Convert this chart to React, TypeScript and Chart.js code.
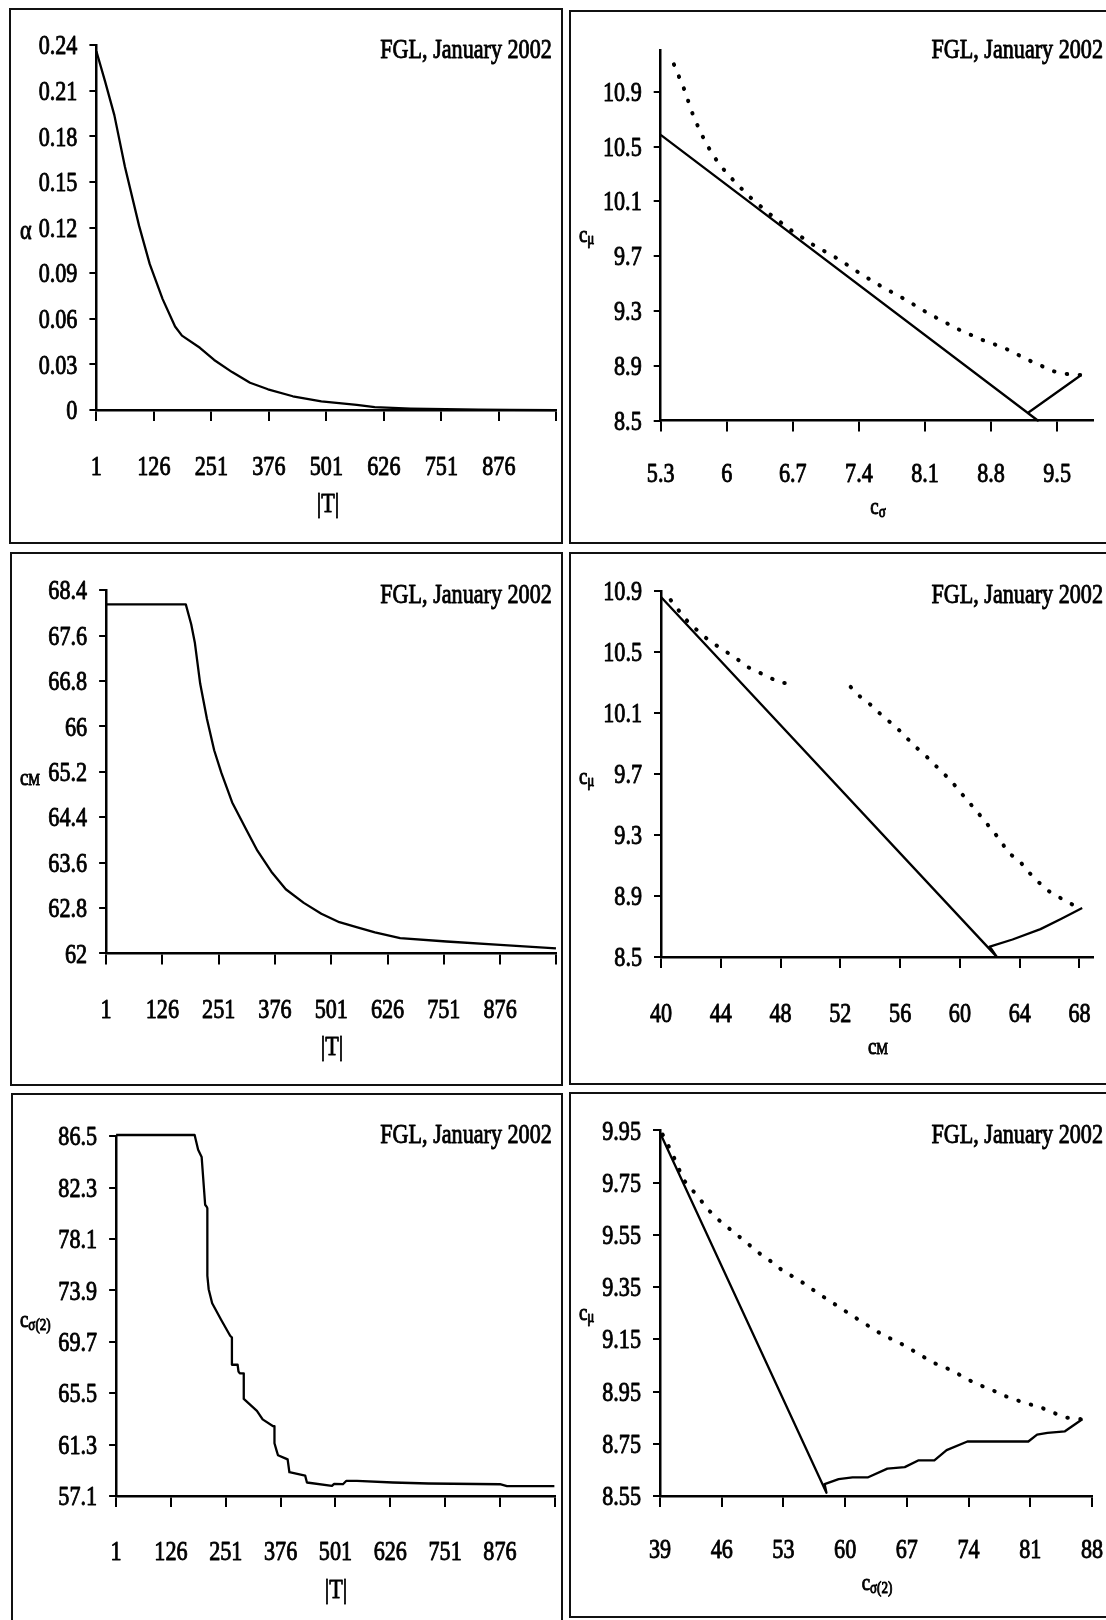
import React, { useEffect, useRef } from 'react';
import { Chart, registerables } from 'chart.js';

Chart.register(...registerables);

// ======================= DATA =======================
const ANNOTATION = 'FGL, January 2002';

const T_TICKS = [1, 126, 251, 376, 501, 626, 751, 876, 1001];
const T_TICK_LABELS = ['1', '126', '251', '376', '501', '626', '751', '876', ''];

// Panel 1: alpha vs |T|
const P1_Y_TICKS = [0, 0.03, 0.06, 0.09, 0.12, 0.15, 0.18, 0.21, 0.24];
const P1_Y_LABELS = ['0', '0.03', '0.06', '0.09', '0.12', '0.15', '0.18', '0.21', '0.24'];
const P1_T = [1, 20, 40, 63, 94, 117, 145, 172, 187, 226, 257, 296, 335, 374, 428, 490, 567, 606, 684, 760, 832, 900, 1000];
const P1_ALPHA = [0.236, 0.216, 0.194, 0.16, 0.121, 0.096, 0.073, 0.055, 0.049, 0.041, 0.033, 0.025, 0.018, 0.0137, 0.0091, 0.0057, 0.0034, 0.0019, 0.001, 0.0006, 0.0003, 0.0002, 0.0];

// c_mu ticks shared by panels 2 and 4
const CMU_TICKS = [8.5, 8.9, 9.3, 9.7, 10.1, 10.5, 10.9];
const CMU_LABELS = ['8.5', '8.9', '9.3', '9.7', '10.1', '10.5', '10.9'];

// Panel 2: c_mu vs c_sigma
const P2_X_TICKS = [5.3, 6, 6.7, 7.4, 8.1, 8.8, 9.5];
const P2_X_LABELS = ['5.3', '6', '6.7', '7.4', '8.1', '8.8', '9.5'];
const P2_SOLID_X = [5.3, 9.295, 9.189, 9.755];
const P2_SOLID_Y = [10.586, 8.5, 8.555, 8.832];
const P2_DOT_X = [5.44, 5.5, 5.56, 5.62, 5.68, 5.74, 5.8, 5.91, 6.02, 6.23, 6.45, 6.68, 6.92, 7.18, 7.42, 7.66, 7.9, 8.14, 8.44, 8.7, 8.94, 9.2, 9.46, 9.59, 9.755];
const P2_DOT_Y = [11.1, 11.0, 10.9, 10.77, 10.67, 10.58, 10.5, 10.38, 10.29, 10.14, 10.01, 9.89, 9.78, 9.68, 9.57, 9.47, 9.38, 9.28, 9.17, 9.09, 9.03, 8.94, 8.86, 8.84, 8.832];

// Panel 3: c_M vs |T|
const P3_Y_TICKS = [62, 62.8, 63.6, 64.4, 65.2, 66, 66.8, 67.6, 68.4];
const P3_Y_LABELS = ['62', '62.8', '63.6', '64.4', '65.2', '66', '66.8', '67.6', '68.4'];
const P3_T = [1, 178, 190, 198, 210, 225, 241, 257, 281, 313, 337, 368, 400, 440, 479, 519, 559, 598, 654, 757, 876, 1000];
const P3_CM = [68.15, 68.15, 67.8, 67.48, 66.75, 66.13, 65.58, 65.18, 64.66, 64.17, 63.81, 63.44, 63.13, 62.89, 62.7, 62.55, 62.46, 62.37, 62.27, 62.21, 62.15, 62.09];

// Panel 4: c_mu vs c_M
const P4_X_TICKS = [40, 44, 48, 52, 56, 60, 64, 68];
const P4_X_LABELS = ['40', '44', '48', '52', '56', '60', '64', '68'];
const P4_SOLID_X = [40, 62.47, 62.0, 63.52, 65.39, 66.79, 68.18];
const P4_SOLID_Y = [10.86, 8.5, 8.568, 8.614, 8.682, 8.75, 8.82];
const P4_DOT1_X = [40.65, 41.28, 41.86, 42.56, 43.26, 44.07, 45.0, 45.82, 47.1, 47.92, 48.85];
const P4_DOT1_Y = [10.84, 10.76, 10.69, 10.63, 10.57, 10.52, 10.46, 10.4, 10.34, 10.3, 10.29];
const P4_DOT2_X = [52.69, 53.39, 54.21, 54.9, 55.6, 56.3, 57.0, 57.7, 58.52, 59.45, 60.03, 60.73, 61.42, 62.0, 62.58, 63.28, 63.98, 64.56, 65.26, 65.96, 66.66, 67.36, 68.18];
const P4_DOT2_Y = [10.27, 10.2, 10.14, 10.07, 10.02, 9.95, 9.88, 9.82, 9.74, 9.65, 9.58, 9.5, 9.42, 9.35, 9.28, 9.18, 9.13, 9.06, 8.99, 8.93, 8.89, 8.85, 8.82];

// Panel 5: c_sigma(2) vs |T|
const P5_Y_TICKS = [57.1, 61.3, 65.5, 69.7, 73.9, 78.1, 82.3, 86.5];
const P5_Y_LABELS = ['57.1', '61.3', '65.5', '69.7', '73.9', '78.1', '82.3', '86.5'];
const P5_T = [1, 180, 188, 196, 204, 208, 209, 209, 212, 220, 241, 261, 265, 265, 278, 280, 283, 292, 292, 322, 335, 359, 362, 362, 367, 370, 388, 392, 396, 432, 436, 493, 498, 518, 526, 550, 632, 713, 876, 892, 1000];
const P5_CS2 = [86.6, 86.6, 85.4, 84.8, 80.9, 80.7, 80.6, 75.1, 74.0, 72.85, 71.46, 70.2, 70.06, 67.83, 67.83, 67.27, 67.13, 67.13, 65.04, 64.07, 63.37, 62.81, 62.81, 61.42, 60.8, 60.44, 60.16, 60.1, 59.05, 58.77, 58.21, 57.93, 58.1, 58.07, 58.35, 58.35, 58.21, 58.13, 58.07, 57.91, 57.91];

// Panel 6: c_mu vs c_sigma(2)
const P6_X_TICKS = [39, 46, 53, 60, 67, 74, 81, 88];
const P6_X_LABELS = ['39', '46', '53', '60', '67', '74', '81', '88'];
const P6_Y_TICKS = [8.55, 8.75, 8.95, 9.15, 9.35, 9.55, 9.75, 9.95];
const P6_Y_LABELS = ['8.55', '8.75', '8.95', '9.15', '9.35', '9.55', '9.75', '9.95'];
const P6_SOLID_X = [39, 57.88, 57.67, 59.26, 60.84, 62.61, 64.79, 66.76, 68.34, 70.12, 71.51, 73.87, 76.64, 80.78, 81.77, 82.95, 84.93, 86.9];
const P6_SOLID_Y = [9.941, 8.563, 8.596, 8.615, 8.622, 8.622, 8.655, 8.661, 8.687, 8.687, 8.726, 8.759, 8.759, 8.759, 8.785, 8.792, 8.798, 8.844];
const P6_DOT_X = [39.3, 40.29, 41.68, 43.25, 44.45, 45.63, 46.82, 48.0, 49.19, 50.37, 51.75, 52.94, 54.32, 55.51, 56.89, 58.07, 59.26, 60.44, 61.61, 63.2, 64.39, 65.77, 67.15, 68.73, 70.12, 71.51, 72.69, 74.06, 75.25, 76.63, 78.0, 79.2, 80.78, 82.16, 83.55, 85.12, 86.9];
const P6_DOT_Y = [9.934, 9.869, 9.76, 9.699, 9.647, 9.608, 9.575, 9.543, 9.51, 9.477, 9.445, 9.412, 9.386, 9.36, 9.327, 9.301, 9.275, 9.249, 9.223, 9.19, 9.164, 9.144, 9.118, 9.086, 9.059, 9.04, 9.02, 8.994, 8.975, 8.957, 8.935, 8.92, 8.903, 8.89, 8.87, 8.85, 8.844];

// ======================= STYLE / LAYOUT =======================
const FONT_FAMILY = '"Liberation Serif", "Times New Roman", Times, serif';
const SCALE_X = 0.82;
const LABEL_SIZE = 27;
const TITLE_C = 23;
const TITLE_SUB = 16;

type Part = { t: string; size: number; dy?: number };
type Series = { x: number[]; y: number[]; dotted: boolean };
type Rect = { left: number; top: number; w: number; h: number };
type PanelSpec = {
  id: string;
  border: { x0: number; y0: number; x1: number; y1: number };
  canvas: Rect;
  area: { left: number; right: number; top: number; bottom: number };
  xMin: number; xMax: number; yMin: number; yMax: number;
  xTicks: number[]; xLabels: string[]; yTicks: number[]; yLabels: string[];
  xLabelCY: number;
  xTitle: Part[]; xTitlePos: { x: number; y: number };
  yTitle: Part[]; yTitlePos: { x: number; y: number };
  annot: { x: number; y: number };
  series: Series[];
};

const T_TITLE: Part[] = [{ t: '|T|', size: LABEL_SIZE }];
const sub = (main: string, s: string, dy = 3): Part[] => [
  { t: main, size: TITLE_C },
  { t: s, size: TITLE_SUB, dy },
];

const PANELS: PanelSpec[] = [
  {
    id: 'p1',
    border: { x0: 10.5, y0: 9.5, x1: 561.5, y1: 542.5 },
    canvas: { left: 12, top: 11, w: 548, h: 530 },
    area: { left: 96.4, right: 556.4, top: 45.2, bottom: 410.1 },
    xMin: 1, xMax: 1001, yMin: 0, yMax: 0.24,
    xTicks: T_TICKS, xLabels: T_TICK_LABELS, yTicks: P1_Y_TICKS, yLabels: P1_Y_LABELS,
    xLabelCY: 465.8,
    xTitle: T_TITLE, xTitlePos: { x: 328, y: 512 },
    yTitle: [{ t: 'α', size: LABEL_SIZE }], yTitlePos: { x: 20, y: 238.5 },
    annot: { x: 551.8, y: 58 },
    series: [{ x: P1_T, y: P1_ALPHA, dotted: false }],
  },
  {
    id: 'p2',
    border: { x0: 570.5, y0: 11, x1: 1120, y1: 543 },
    canvas: { left: 572, top: 13, w: 534, h: 529 },
    area: { left: 660.7, right: 1093, top: 50.7, bottom: 420.5 },
    xMin: 5.3, xMax: 9.88, yMin: 8.5, yMax: 11.2,
    xTicks: P2_X_TICKS, xLabels: P2_X_LABELS, yTicks: CMU_TICKS, yLabels: CMU_LABELS,
    xLabelCY: 472.7,
    xTitle: sub('c', 'σ'), xTitlePos: { x: 878, y: 514 },
    yTitle: sub('c', 'μ', 2), yTitlePos: { x: 579, y: 242 },
    annot: { x: 1103, y: 58 },
    series: [
      { x: P2_SOLID_X, y: P2_SOLID_Y, dotted: false },
      { x: P2_DOT_X, y: P2_DOT_Y, dotted: true },
    ],
  },
  {
    id: 'p3',
    border: { x0: 11.5, y0: 553.5, x1: 561.5, y1: 1084.5 },
    canvas: { left: 13, top: 555, w: 547, h: 528 },
    area: { left: 106.1, right: 556.4, top: 590.2, bottom: 953.4 },
    xMin: 1, xMax: 1001, yMin: 62, yMax: 68.4,
    xTicks: T_TICKS, xLabels: T_TICK_LABELS, yTicks: P3_Y_TICKS, yLabels: P3_Y_LABELS,
    xLabelCY: 1009,
    xTitle: T_TITLE, xTitlePos: { x: 332, y: 1055 },
    yTitle: sub('c', 'M', 0), yTitlePos: { x: 20, y: 785 },
    annot: { x: 551.8, y: 603 },
    series: [{ x: P3_T, y: P3_CM, dotted: false }],
  },
  {
    id: 'p4',
    border: { x0: 570.5, y0: 553.5, x1: 1120, y1: 1084 },
    canvas: { left: 572, top: 555, w: 534, h: 528 },
    area: { left: 661, right: 1093.4, top: 590.9, bottom: 956.9 },
    xMin: 40, xMax: 68.93, yMin: 8.5, yMax: 10.9,
    xTicks: P4_X_TICKS, xLabels: P4_X_LABELS, yTicks: CMU_TICKS, yLabels: CMU_LABELS,
    xLabelCY: 1012.5,
    xTitle: sub('c', 'M', 0), xTitlePos: { x: 878, y: 1054 },
    yTitle: sub('c', 'μ', 2), yTitlePos: { x: 579, y: 784 },
    annot: { x: 1103, y: 603 },
    series: [
      { x: P4_SOLID_X, y: P4_SOLID_Y, dotted: false },
      { x: P4_DOT1_X, y: P4_DOT1_Y, dotted: true },
      { x: P4_DOT2_X, y: P4_DOT2_Y, dotted: true },
    ],
  },
  {
    id: 'p5',
    border: { x0: 12.5, y0: 1094.5, x1: 561.5, y1: 1640 },
    canvas: { left: 14, top: 1096, w: 546, h: 524 },
    area: { left: 116.1, right: 554.8, top: 1136.2, bottom: 1496.1 },
    xMin: 1, xMax: 1001, yMin: 57.1, yMax: 86.5,
    xTicks: T_TICKS, xLabels: T_TICK_LABELS, yTicks: P5_Y_TICKS, yLabels: P5_Y_LABELS,
    xLabelCY: 1550.7,
    xTitle: T_TITLE, xTitlePos: { x: 336, y: 1598 },
    yTitle: sub('c', 'σ(2)'), yTitlePos: { x: 20, y: 1327 },
    annot: { x: 551.8, y: 1143 },
    series: [{ x: P5_T, y: P5_CS2, dotted: false }],
  },
  {
    id: 'p6',
    border: { x0: 570.5, y0: 1093.5, x1: 1120, y1: 1617 },
    canvas: { left: 572, top: 1095, w: 534, h: 521 },
    area: { left: 660, right: 1092, top: 1130.4, bottom: 1496.1 },
    xMin: 39, xMax: 88, yMin: 8.55, yMax: 9.95,
    xTicks: P6_X_TICKS, xLabels: P6_X_LABELS, yTicks: P6_Y_TICKS, yLabels: P6_Y_LABELS,
    xLabelCY: 1549,
    xTitle: sub('c', 'σ(2)'), xTitlePos: { x: 877, y: 1590 },
    yTitle: sub('c', 'μ', 2), yTitlePos: { x: 579, y: 1320 },
    annot: { x: 1103, y: 1143 },
    series: [
      { x: P6_SOLID_X, y: P6_SOLID_Y, dotted: false },
      { x: P6_DOT_X, y: P6_DOT_Y, dotted: true },
    ],
  },
];

// ======================= RENDERING =======================
function drawParts(ctx: CanvasRenderingContext2D, parts: Part[], x: number, y: number, align: 'left' | 'center' | 'right') {
  ctx.save();
  ctx.fillStyle = '#000';
  ctx.strokeStyle = '#000';
  ctx.lineWidth = 0.9;
  ctx.lineJoin = 'round';
  ctx.textBaseline = 'alphabetic';
  ctx.textAlign = 'left';
  let total = 0;
  const widths = parts.map((p) => {
    ctx.font = `${p.size}px ${FONT_FAMILY}`;
    const w = ctx.measureText(p.t).width * SCALE_X;
    total += w;
    return w;
  });
  let cx = align === 'right' ? x - total : align === 'center' ? x - total / 2 : x;
  parts.forEach((p, i) => {
    ctx.font = `${p.size}px ${FONT_FAMILY}`;
    ctx.save();
    ctx.translate(cx, y + (p.dy || 0));
    ctx.scale(SCALE_X, 1);
    ctx.fillText(p.t, 0, 0);
    ctx.strokeText(p.t, 0, 0);
    ctx.restore();
    cx += widths[i];
  });
  ctx.restore();
}

function textPlugin(spec: PanelSpec) {
  return {
    id: 'texts_' + spec.id,
    afterDraw(chart: any) {
      const ctx: CanvasRenderingContext2D = chart.ctx;
      const ox = spec.canvas.left;
      const oy = spec.canvas.top;
      const xs = chart.scales.x;
      const ys = chart.scales.y;
      const ca = chart.chartArea;
      const digitMid = 0.338 * LABEL_SIZE;
      spec.xTicks.forEach((v, i) => {
        const lab = spec.xLabels[i];
        if (!lab) return;
        drawParts(ctx, [{ t: lab, size: LABEL_SIZE }], xs.getPixelForValue(v), spec.xLabelCY - oy + digitMid, 'center');
      });
      spec.yTicks.forEach((v, i) => {
        const lab = spec.yLabels[i];
        if (!lab) return;
        drawParts(ctx, [{ t: lab, size: LABEL_SIZE }], ca.left - 19, ys.getPixelForValue(v) + digitMid, 'right');
      });
      drawParts(ctx, spec.xTitle, spec.xTitlePos.x - ox, spec.xTitlePos.y - oy, 'center');
      drawParts(ctx, spec.yTitle, spec.yTitlePos.x - ox, spec.yTitlePos.y - oy, 'left');
      drawParts(ctx, [{ t: ANNOTATION, size: LABEL_SIZE }], spec.annot.x - ox, spec.annot.y - oy, 'right');
    },
  };
}

function buildConfig(spec: PanelSpec): any {
  const { canvas, area } = spec;
  const datasets = spec.series.map((s) => ({
    data: s.x.map((v, i) => ({ x: v, y: s.y[i] })),
    borderColor: '#000',
    backgroundColor: '#000',
    borderWidth: s.dotted ? 4 : 2.3,
    borderDash: s.dotted ? [0.5, 12.5] : [],
    borderCapStyle: s.dotted ? 'round' : 'butt',
    borderJoinStyle: 'round',
    pointRadius: 0,
    pointHoverRadius: 0,
    tension: 0,
    fill: false,
    spanGaps: false,
    clip: 8,
  }));
  return {
    type: 'line',
    data: { datasets },
    options: {
      animation: false,
      responsive: false,
      maintainAspectRatio: false,
      devicePixelRatio: 1,
      events: [],
      layout: {
        padding: {
          left: 0,
          top: area.top - canvas.top,
          right: canvas.left + canvas.w - area.right,
          bottom: 0,
        },
      },
      plugins: { legend: { display: false }, tooltip: { enabled: false }, title: { display: false } },
      scales: {
        x: {
          type: 'linear',
          position: 'bottom',
          min: spec.xMin,
          max: spec.xMax,
          afterBuildTicks: (s: any) => {
            s.ticks = spec.xTicks.map((v) => ({ value: v }));
          },
          afterFit: (s: any) => {
            s.height = canvas.top + canvas.h - area.bottom;
          },
          ticks: { display: false },
          grid: { display: true, drawOnChartArea: false, drawTicks: true, tickLength: 11, color: '#000', lineWidth: 2 },
          border: { display: true, color: '#000', width: 2.5 },
        },
        y: {
          type: 'linear',
          position: 'left',
          min: spec.yMin,
          max: spec.yMax,
          afterBuildTicks: (s: any) => {
            s.ticks = spec.yTicks.map((v) => ({ value: v }));
          },
          afterFit: (s: any) => {
            s.width = area.left - canvas.left;
          },
          ticks: { display: false },
          grid: { display: true, drawOnChartArea: false, drawTicks: true, tickLength: 7, color: '#000', lineWidth: 2 },
          border: { display: true, color: '#000', width: 2.5 },
        },
      },
    },
    plugins: [textPlugin(spec)],
  };
}

function Panel({ spec }: { spec: PanelSpec }) {
  const ref = useRef<HTMLCanvasElement>(null);
  useEffect(() => {
    const el = ref.current;
    if (!el) return;
    const chart = new Chart(el, buildConfig(spec));
    return () => chart.destroy();
  }, [spec]);
  const c = spec.canvas;
  return (
    <canvas
      ref={ref}
      width={c.w}
      height={c.h}
      style={{ position: 'absolute', left: c.left, top: c.top, width: c.w, height: c.h }}
    />
  );
}

export default function App() {
  return (
    <div
      style={{
        position: 'absolute',
        left: 0,
        top: 0,
        width: 1106,
        height: 1620,
        overflow: 'hidden',
        background: '#fff',
      }}
    >
      {PANELS.map((p) => (
        <div
          key={'b' + p.id}
          style={{
            position: 'absolute',
            left: p.border.x0 - 1.25,
            top: p.border.y0 - 1.25,
            width: p.border.x1 - p.border.x0 + 2.5,
            height: p.border.y1 - p.border.y0 + 2.5,
            border: '2.5px solid #111',
            boxSizing: 'border-box',
          }}
        />
      ))}
      {PANELS.map((p) => (
        <Panel key={p.id} spec={p} />
      ))}
    </div>
  );
}
